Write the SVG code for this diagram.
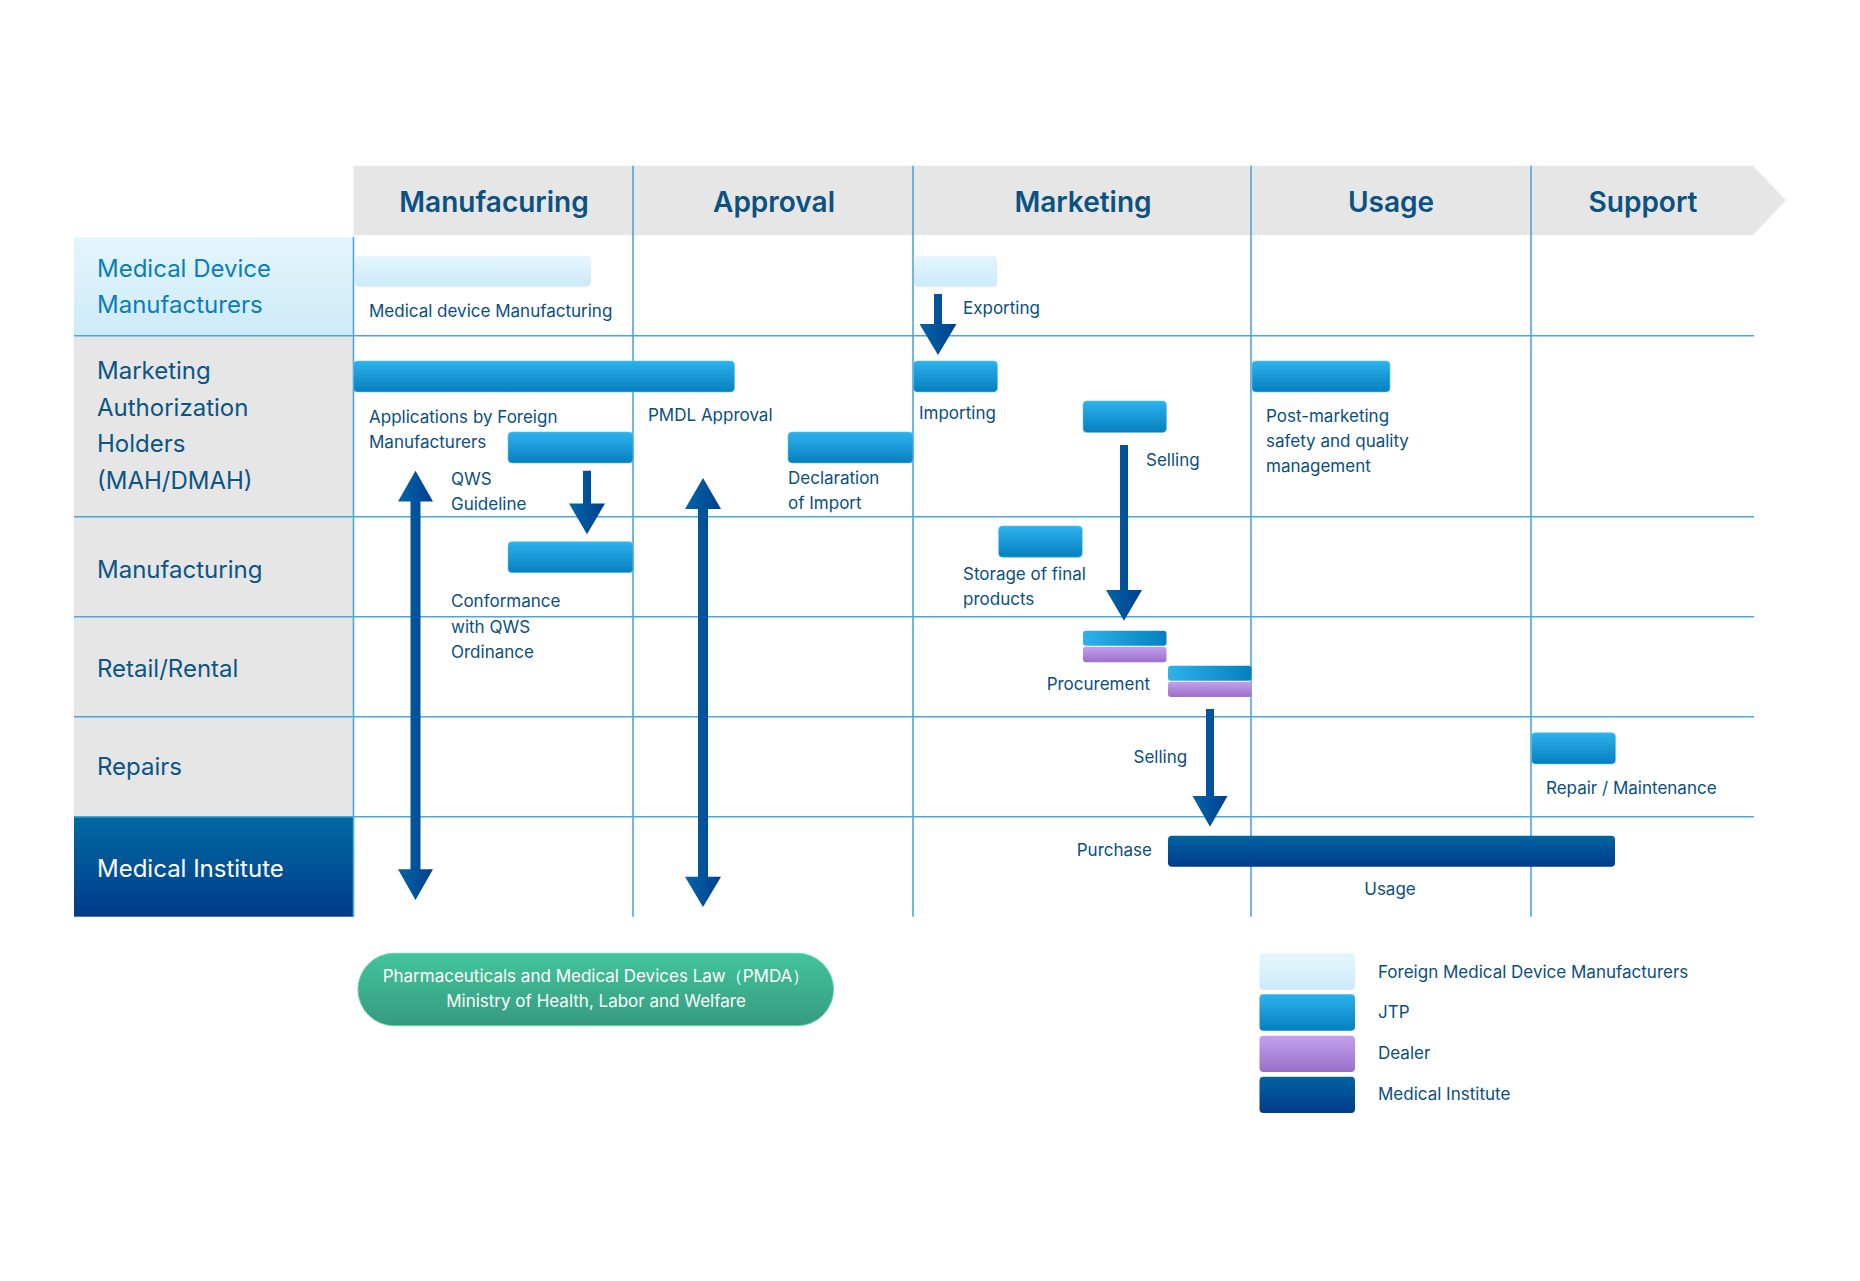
<svg xmlns="http://www.w3.org/2000/svg" width="1860" height="1281" viewBox="0 0 1860 1281">
<defs>
<linearGradient id="gLight" x1="0" y1="0" x2="0" y2="1"><stop offset="0" stop-color="#e6f6fd"/><stop offset="1" stop-color="#cbeaf9"/></linearGradient>
<linearGradient id="gJtp" x1="0" y1="0" x2="0" y2="1"><stop offset="0" stop-color="#2db2ec"/><stop offset="1" stop-color="#0580bf"/></linearGradient>
<linearGradient id="gJtpH" x1="0" y1="0" x2="1" y2="0"><stop offset="0" stop-color="#2db2ec"/><stop offset="1" stop-color="#0580bf"/></linearGradient>
<linearGradient id="gDealer" x1="0" y1="0" x2="0" y2="1"><stop offset="0" stop-color="#c3a0ec"/><stop offset="1" stop-color="#9a6fca"/></linearGradient>
<linearGradient id="gMed" x1="0" y1="0" x2="0" y2="1"><stop offset="0" stop-color="#01639f"/><stop offset="1" stop-color="#003c8b"/></linearGradient>
<linearGradient id="gMedHead" x1="0" y1="0" x2="0" y2="1"><stop offset="0" stop-color="#006aa3"/><stop offset="1" stop-color="#003b89"/></linearGradient>
<linearGradient id="gMdmHead" x1="0" y1="0" x2="0" y2="1"><stop offset="0" stop-color="#e4f5fc"/><stop offset="1" stop-color="#cdebf8"/></linearGradient>
<linearGradient id="gArrow" x1="0" y1="0" x2="1" y2="0"><stop offset="0" stop-color="#0066a8"/><stop offset="1" stop-color="#003f8d"/></linearGradient>
<linearGradient id="gGreen" x1="0" y1="0" x2="0" y2="1"><stop offset="0" stop-color="#42c59b"/><stop offset="1" stop-color="#369a80"/></linearGradient>
<style>
.grid{stroke:#4ea6d6;stroke-width:1.6;fill:none}
.hdr{font-family:Inter,"Noto Sans",sans-serif;font-size:28px;font-weight:600;fill:#0b5283;text-anchor:middle}
.row{font-family:Inter,"Noto Sans",sans-serif;font-size:24px;fill:#0b5585}
.lbl{font-family:Inter,"Noto Sans",sans-serif;font-size:17px;fill:#0a4f80}
.bar{stroke:#5fc3ee;stroke-width:0.6}
.arrow{fill:url(#gArrow)}
</style>
</defs>
<rect width="1860" height="1281" fill="#ffffff"/>
<g id="header">
<polygon points="353.5,165.7 1753,165.7 1786,200.3 1753,235 353.5,235" fill="#e6e6e6"/>
<text class="hdr" x="494" y="212">Manufacuring</text>
<text class="hdr" x="774" y="212">Approval</text>
<text class="hdr" x="1083" y="212">Marketing</text>
<text class="hdr" x="1391" y="212">Usage</text>
<text class="hdr" x="1643" y="212">Support</text>
</g>
<g id="row-headers">
<rect x="74" y="237.3" width="279.5" height="98.4" fill="url(#gMdmHead)"/>
<rect x="74" y="335.7" width="279.5" height="481" fill="#e6e6e6"/>
<rect x="74" y="816.7" width="279.5" height="100" fill="url(#gMedHead)"/>
<text class="row" x="97" y="277" style="fill:#0c7db9">Medical Device</text>
<text class="row" x="97" y="313" style="fill:#0c7db9">Manufacturers</text>
<text class="row" x="97" y="379">Marketing</text>
<text class="row" x="97" y="416">Authorization</text>
<text class="row" x="97" y="452">Holders</text>
<text class="row" x="97" y="489">(MAH/DMAH)</text>
<text class="row" x="97" y="578">Manufacturing</text>
<text class="row" x="97" y="677">Retail/Rental</text>
<text class="row" x="97" y="775">Repairs</text>
<text class="row" x="97" y="877" style="fill:#ffffff">Medical Institute</text>
</g>
<g id="grid">
<line class="grid" x1="74" y1="335.7" x2="1754" y2="335.7"/>
<line class="grid" x1="74" y1="516.7" x2="1754" y2="516.7"/>
<line class="grid" x1="74" y1="616.7" x2="1754" y2="616.7"/>
<line class="grid" x1="74" y1="716.7" x2="1754" y2="716.7"/>
<line class="grid" x1="74" y1="816.7" x2="1754" y2="816.7"/>
<line class="grid" x1="353.5" y1="237" x2="353.5" y2="916.7"/>
<line class="grid" x1="633" y1="165.7" x2="633" y2="916.7"/>
<line class="grid" x1="913" y1="165.7" x2="913" y2="916.7"/>
<line class="grid" x1="1251" y1="165.7" x2="1251" y2="916.7"/>
<line class="grid" x1="1531" y1="165.7" x2="1531" y2="916.7"/>
</g>
<g id="node-md-manufacturing">
<rect x="355" y="255.7" width="236" height="31" rx="5" fill="url(#gLight)"/>
<text class="lbl" x="369" y="317">Medical device Manufacturing</text>
</g>
<g id="node-exporting">
<rect x="914" y="255.7" width="83" height="31" rx="4" fill="url(#gLight)"/>
<text class="lbl" x="963" y="314">Exporting</text>
</g>
<g id="node-applications">
<rect class="bar" x="353.5" y="361" width="381" height="31" rx="4" fill="url(#gJtp)"/>
<text class="lbl" x="369" y="423">Applications by Foreign</text>
<text class="lbl" x="369" y="448">Manufacturers</text>
</g>
<g id="node-pmdl">
<text class="lbl" x="648" y="421">PMDL Approval</text>
</g>
<g id="node-importing">
<rect class="bar" x="913.5" y="361" width="84" height="31" rx="4" fill="url(#gJtp)"/>
<text class="lbl" x="919" y="419">Importing</text>
</g>
<g id="node-selling1">
<rect class="bar" x="1083" y="401" width="83.5" height="31.5" rx="4" fill="url(#gJtp)"/>
<text class="lbl" x="1146" y="466">Selling</text>
</g>
<g id="node-postmarketing">
<rect class="bar" x="1252" y="361" width="138" height="31" rx="4" fill="url(#gJtp)"/>
<text class="lbl" x="1266" y="422">Post-marketing</text>
<text class="lbl" x="1266" y="447">safety and quality</text>
<text class="lbl" x="1266" y="472">management</text>
</g>
<g id="node-qws">
<rect class="bar" x="508" y="432" width="125" height="31" rx="4" fill="url(#gJtp)"/>
<text class="lbl" x="451" y="485">QWS</text>
<text class="lbl" x="451" y="510">Guideline</text>
</g>
<g id="node-declaration">
<rect class="bar" x="788" y="432" width="125" height="31" rx="4" fill="url(#gJtp)"/>
<text class="lbl" x="788" y="484">Declaration</text>
<text class="lbl" x="788" y="509">of Import</text>
</g>
<g id="node-conformance">
<rect class="bar" x="508" y="541.7" width="125" height="31" rx="4" fill="url(#gJtp)"/>
<text class="lbl" x="451" y="607">Conformance</text>
<text class="lbl" x="451" y="633">with QWS</text>
<text class="lbl" x="451" y="658">Ordinance</text>
</g>
<g id="node-storage">
<rect class="bar" x="998.6" y="526" width="83.7" height="31.3" rx="4" fill="url(#gJtp)"/>
<text class="lbl" x="963" y="580">Storage of final</text>
<text class="lbl" x="963" y="605">products</text>
</g>
<g id="node-procurement">
<rect x="1083" y="630.7" width="83.5" height="15" rx="3" fill="url(#gJtpH)"/>
<rect x="1083" y="646.7" width="83.5" height="15.6" rx="3" fill="url(#gDealer)"/>
<rect x="1168" y="665.7" width="83.5" height="15" rx="3" fill="url(#gJtpH)"/>
<rect x="1168" y="681.7" width="83.5" height="15.3" rx="3" fill="url(#gDealer)"/>
<text class="lbl" x="1150" y="689.5" text-anchor="end">Procurement</text>
</g>
<g id="node-selling2">
<text class="lbl" x="1133.5" y="763">Selling</text>
</g>
<g id="node-repair">
<rect class="bar" x="1531.5" y="732.7" width="84" height="31.3" rx="4" fill="url(#gJtp)"/>
<text class="lbl" x="1546" y="793.5">Repair / Maintenance</text>
</g>
<g id="node-purchase">
<rect x="1168" y="835.7" width="447" height="31" rx="4" fill="url(#gMed)"/>
<text class="lbl" x="1152" y="856" text-anchor="end">Purchase</text>
<text class="lbl" x="1390" y="895" text-anchor="middle">Usage</text>
</g>
<g id="connectors">
<polygon class="arrow" points="415.5,470.7 433,501.5 420.5,501.5 420.5,869.3 433,869.3 415.5,900 398,869.3 410.5,869.3 410.5,501.5 398,501.5"/>
<polygon class="arrow" points="703,478 721,509 708,509 708,876.7 721,876.7 703,907 685,876.7 698,876.7 698,509 685,509"/>
<polygon class="arrow" points="583,470.7 591,470.7 591,503.5 605,503.5 587,534.3 569,503.5 583,503.5"/>
<polygon class="arrow" points="934,294 942,294 942,324 956.5,324 938,355 919.5,324 934,324"/>
<polygon class="arrow" points="1120,445 1128,445 1128,590 1142,590 1124,620.7 1106,590 1120,590"/>
<polygon class="arrow" points="1206,709 1214,709 1214,796 1227.5,796 1210,826.7 1192.5,796 1206,796"/>
</g>
<g id="law">
<rect x="358" y="953.3" width="475.5" height="72.4" rx="36.2" fill="url(#gGreen)" stroke="#5fd0aa" stroke-width="1"/>
<text class="lbl" x="596" y="982" text-anchor="middle" style="fill:#ffffff">Pharmaceuticals and Medical Devices Law（PMDA）</text>
<text class="lbl" x="596" y="1007" text-anchor="middle" style="fill:#ffffff">Ministry of Health, Labor and Welfare</text>
</g>
<g id="legend">
<rect x="1259.5" y="953.3" width="95.5" height="36.4" rx="4" fill="url(#gLight)"/>
<rect x="1259.5" y="994.3" width="95.5" height="36.4" rx="4" fill="url(#gJtp)"/>
<rect x="1259.5" y="1035.7" width="95.5" height="36.3" rx="4" fill="url(#gDealer)"/>
<rect x="1259.5" y="1076.7" width="95.5" height="36.3" rx="4" fill="url(#gMed)"/>
<text class="lbl" x="1378" y="978">Foreign Medical Device Manufacturers</text>
<text class="lbl" x="1378" y="1018">JTP</text>
<text class="lbl" x="1378" y="1058.5">Dealer</text>
<text class="lbl" x="1378" y="1099.5">Medical Institute</text>
</g>
</svg>
